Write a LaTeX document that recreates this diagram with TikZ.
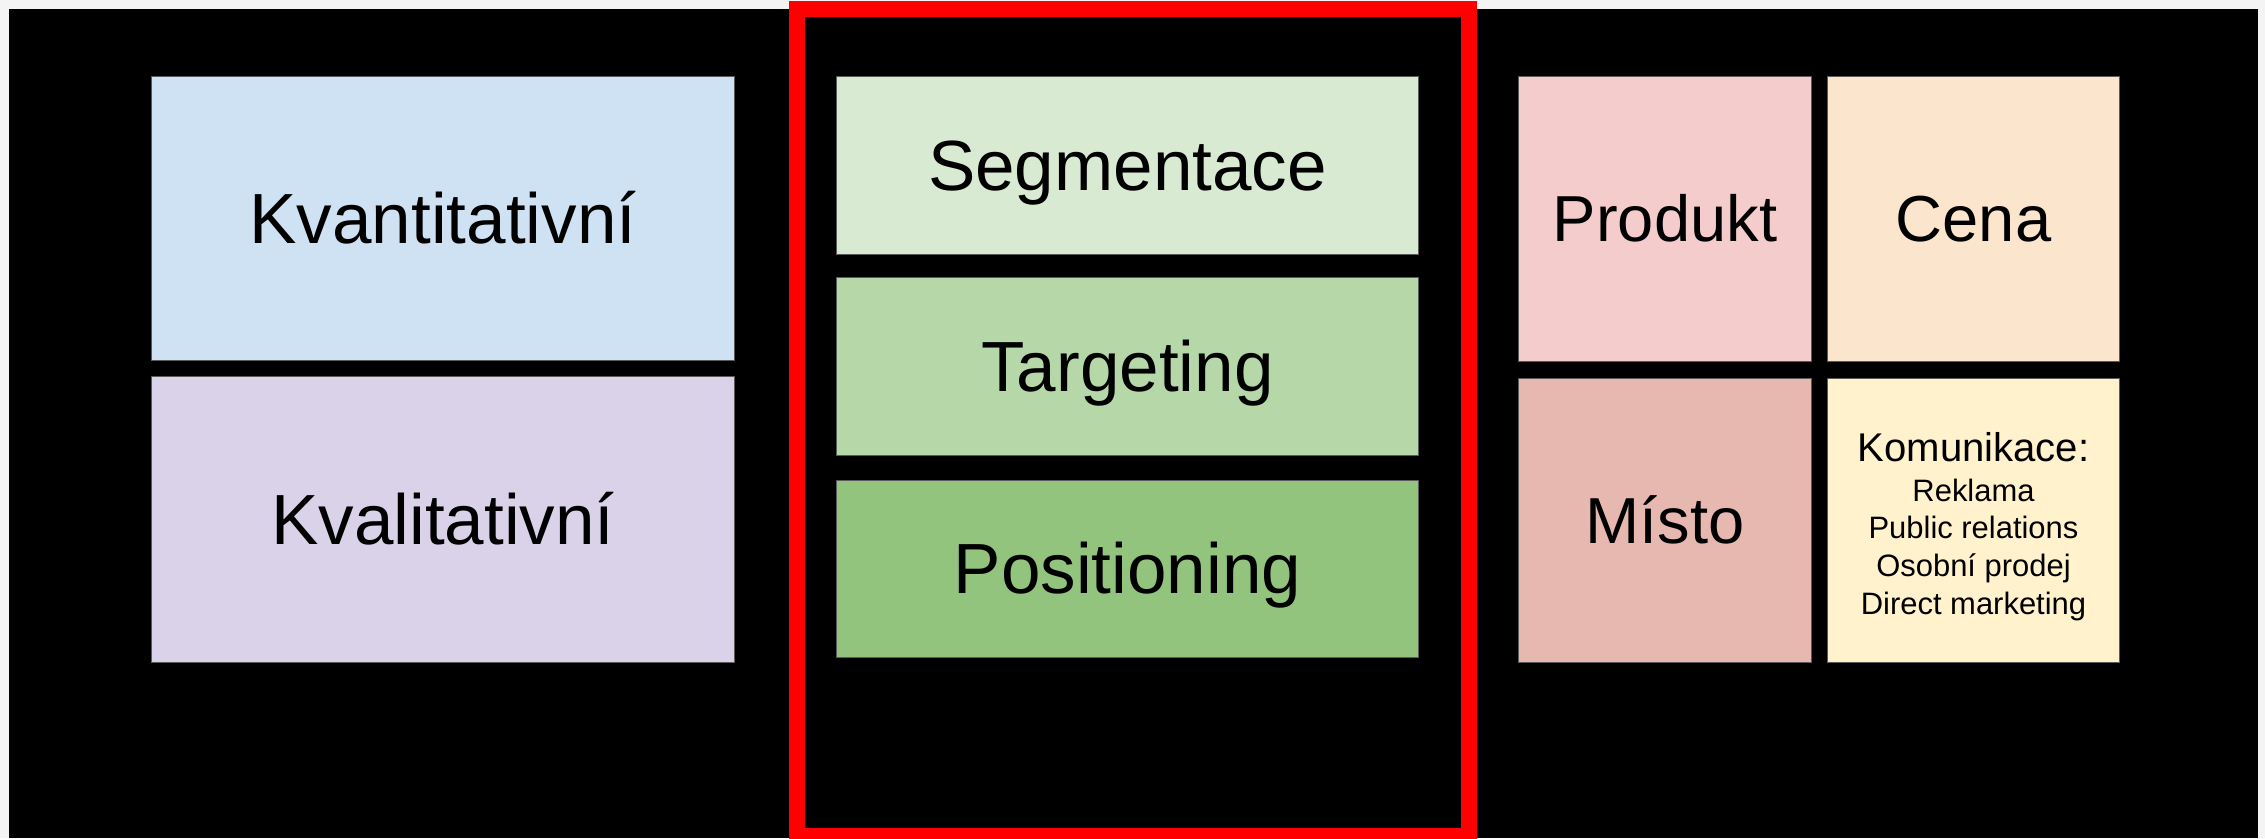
\documentclass[tikz,border=0pt]{standalone}
\usepackage{fontspec}
\setmainfont{Liberation Sans}
\definecolor{bgwhite}{HTML}{F4F4F4}
\definecolor{kvantc}{HTML}{CFE2F3}
\definecolor{kvalc}{HTML}{D9D2E9}
\definecolor{segc}{HTML}{D9EAD3}
\definecolor{targc}{HTML}{B6D7A8}
\definecolor{posc}{HTML}{93C47D}
\definecolor{prodc}{HTML}{F4CCCC}
\definecolor{cenac}{HTML}{FCE5CD}
\definecolor{mistoc}{HTML}{E6B8AF}
\definecolor{komc}{HTML}{FFF2CC}
\definecolor{edgec}{HTML}{5A5A5A}
\definecolor{redc}{HTML}{FF0000}
\tikzset{
  cell/.style={draw=edgec, line width=0.3pt, rectangle, inner sep=0pt, text=black},
  bigtext/.style={font=\fontsize{20.2}{24}\selectfont, text height=18.28pt, text depth=4.28pt},
  midtext/.style={font=\fontsize{18.5}{22}\selectfont, text height=16.74pt, text depth=3.92pt},
  redframe/.style={draw=redc, line width=0.16cm}
}
\begin{document}
\begin{tikzpicture}[x=0.01cm, y=-0.01cm]
\useasboundingbox (0,0) rectangle (2265,838);
\fill[bgwhite] (0,0) rectangle (2265,838);
\fill[black] (9,9) rectangle (2258,838);
% left column
\node[cell, bigtext, fill=kvantc, minimum width=5.82cm, minimum height=2.83cm] (kvant) at (443,218.5) {Kvantitativní};
\node[cell, bigtext, fill=kvalc, minimum width=5.82cm, minimum height=2.85cm] (kval) at (443,519.5) {Kvalitativní};
% middle column
\node[cell, bigtext, fill=segc, minimum width=5.81cm, minimum height=1.77cm] (seg) at (1127.5,165.5) {Segmentace};
\node[cell, bigtext, fill=targc, minimum width=5.81cm, minimum height=1.77cm] (targ) at (1127.5,366.5) {Targeting};
\node[cell, bigtext, fill=posc, minimum width=5.81cm, minimum height=1.76cm] (pos) at (1127.5,569) {Positioning};
% right column
\node[cell, midtext, fill=prodc, minimum width=2.92cm, minimum height=2.84cm] (prod) at (1665,219) {Produkt};
\node[cell, midtext, fill=cenac, minimum width=2.91cm, minimum height=2.84cm] (cena) at (1973.5,219) {Cena};
\node[cell, midtext, fill=mistoc, minimum width=2.92cm, minimum height=2.83cm] (misto) at (1665,520.5) {Místo};
\node[cell, fill=komc, minimum width=2.91cm, minimum height=2.83cm, align=center,
      font=\fontsize{8.8}{10.7}\selectfont] (kom) at (1973.5,520.5)
  {{\fontsize{11.4}{12}\selectfont\rule{0pt}{11.7pt}Komunikace:}\\[0.6pt]Reklama\\Public relations\\Osobní prodej\\Direct marketing};
% red frame around STP
\begin{scope}
\clip (0,0) rectangle (2265,838);
\draw[redframe] (797,9) rectangle (1469,836);
\end{scope}
\end{tikzpicture}
\end{document}
